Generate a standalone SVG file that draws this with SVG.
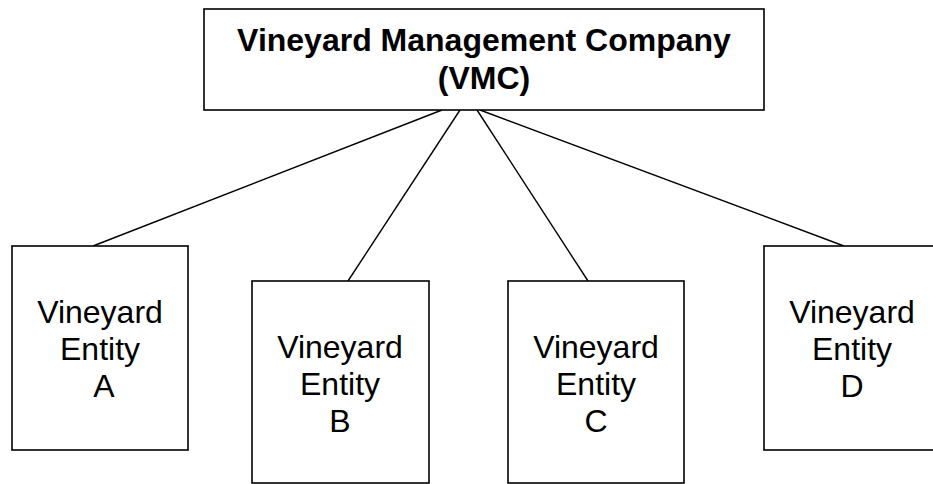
<svg xmlns="http://www.w3.org/2000/svg" width="933" height="484" viewBox="0 0 933 484">
<style>
.box{fill:#fff;stroke:#000;stroke-width:1.6}
.ln{stroke:#000;stroke-width:1.4;fill:none}
.t{font-family:"Liberation Sans",Arial,sans-serif;font-size:32px;fill:#000;text-anchor:middle}
.b{font-weight:bold}
</style>
<rect width="933" height="484" fill="#fff"/>
<g id="connectors">
<line class="ln" x1="442" y1="110" x2="93" y2="246"/>
<line class="ln" x1="460" y1="110" x2="348" y2="281"/>
<line class="ln" x1="477" y1="110" x2="588" y2="281"/>
<line class="ln" x1="480" y1="110" x2="844" y2="246"/>
</g>
<g id="vmc">
<rect class="box" x="204" y="9" width="560" height="101"/>
<text class="t b" x="484" y="51">Vineyard Management Company</text>
<text class="t b" x="484" y="89">(VMC)</text>
</g>
<g id="entityA">
<rect class="box" x="12" y="246" width="176" height="204"/>
<text class="t" x="100" y="323">Vineyard</text>
<text class="t" x="100" y="360">Entity</text>
<text class="t" x="104" y="397">A</text>
</g>
<g id="entityB">
<rect class="box" x="252" y="281" width="177" height="202"/>
<text class="t" x="340" y="358">Vineyard</text>
<text class="t" x="340" y="395">Entity</text>
<text class="t" x="340" y="432">B</text>
</g>
<g id="entityC">
<rect class="box" x="508" y="281" width="176" height="202"/>
<text class="t" x="596" y="358">Vineyard</text>
<text class="t" x="596" y="395">Entity</text>
<text class="t" x="596" y="432">C</text>
</g>
<g id="entityD">
<rect class="box" x="764" y="246" width="177" height="204"/>
<text class="t" x="852" y="323">Vineyard</text>
<text class="t" x="852" y="360">Entity</text>
<text class="t" x="852" y="397">D</text>
</g>
</svg>
